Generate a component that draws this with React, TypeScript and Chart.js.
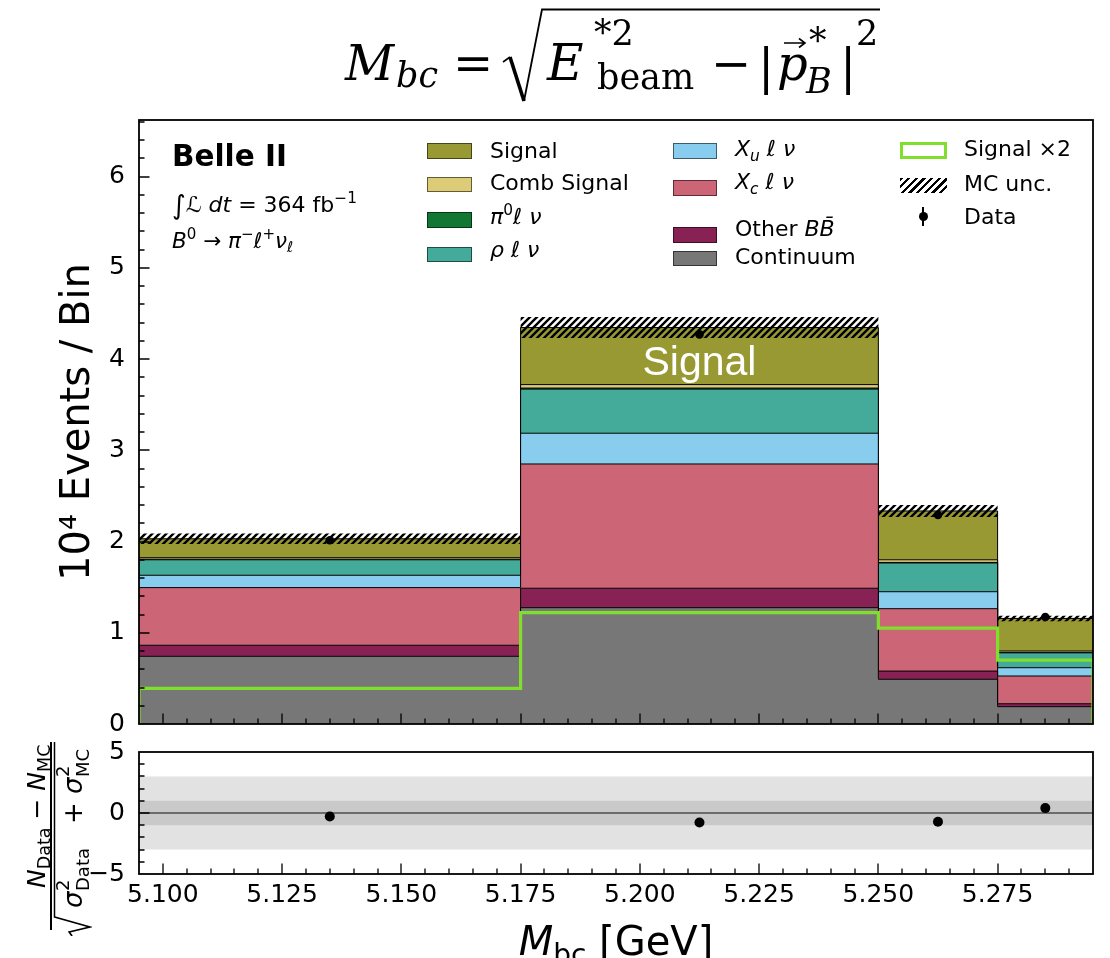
import React, { useEffect, useRef } from 'react';
import { Chart, registerables } from 'chart.js';

Chart.register(...registerables);

// ---------------- data ----------------
const binEdges = [5.095, 5.175, 5.25, 5.275, 5.295];
const binCenters = [5.135, 5.2125, 5.2625, 5.285];
const continuum = [0.742, 1.275, 0.49, 0.19];
const otherBB = [0.121, 0.213, 0.09, 0.032];
const xcLnu = [0.632, 1.362, 0.684, 0.304];
const xuLnu = [0.135, 0.337, 0.186, 0.091];
const rhoLnu = [0.17, 0.483, 0.315, 0.163];
const pi0Lnu = [0.006, 0.012, 0.006, 0.004];
const combSignal = [0.017, 0.038, 0.029, 0.016];
const signal = [0.207, 0.625, 0.535, 0.357];
const signalX2 = [0.39, 1.22, 1.05, 0.7];
const dataValues = [2.014, 4.27, 2.29, 1.173];
const mcUnc = [0.058, 0.115, 0.065, 0.03];
const pullValues = [-0.28, -0.78, -0.72, 0.4];
const pullOuterBand = [-3, 3];
const pullInnerBand = [-1, 1];
const xTickValues = [5.1, 5.125, 5.15, 5.175, 5.2, 5.225, 5.25, 5.275];
const yMainTickValues = [0, 1, 2, 3, 4, 5, 6];
const yPullTickValues = [-5, 0, 5];

const X_MIN = 5.095;
const X_MAX = 5.295;
const Y_MAX = 6.62;
const signalLabelPos = { x: 5.2125, y: 3.83 };

const FONT = '"DejaVu Sans", sans-serif';
const SERIF = '"DejaVu Serif", "Liberation Serif", serif';

const stackOrder = [
  { label: 'Continuum', values: continuum, color: '#777777' },
  { label: 'Other BB', values: otherBB, color: '#882255' },
  { label: 'Xc', values: xcLnu, color: '#CC6677' },
  { label: 'Xu', values: xuLnu, color: '#88CCEE' },
  { label: 'rho', values: rhoLnu, color: '#44AA99' },
  { label: 'pi0', values: pi0Lnu, color: '#117733' },
  { label: 'Comb Signal', values: combSignal, color: '#DDCC77' },
  { label: 'Signal', values: signal, color: '#999933' },
];

function stepData(vals: number[]) {
  return binEdges.map((x, j) => ({ x, y: vals[Math.min(j, vals.length - 1)] }));
}

function makeHatch(): any {
  const s = 7;
  const c = document.createElement('canvas');
  c.width = s;
  c.height = s;
  const g = c.getContext('2d');
  if (!g) return 'rgba(0,0,0,0.5)';
  g.strokeStyle = '#000';
  g.lineWidth = 2.4;
  g.beginPath();
  for (const o of [-s, 0, s]) {
    g.moveTo(o - 1, s + 1);
    g.lineTo(o + s + 1, -1);
  }
  g.stroke();
  return g.createPattern(c, 'repeat') || '#000';
}

const frameTicks = {
  id: 'frameTicks',
  afterDatasetsDraw(chart: any, _a: any, opts: any) {
    const { ctx, chartArea: a, scales } = chart;
    const xs = scales.x;
    const ys = scales.y;
    const steps = (min: number, max: number, step: number) => {
      const out: number[] = [];
      for (let k = Math.ceil(min / step - 1e-6); k * step <= max + 1e-9; k++) out.push(k * step);
      return out;
    };
    const isMaj = (v: number, m: number) => Math.abs(v / m - Math.round(v / m)) < 1e-6;
    ctx.save();
    ctx.strokeStyle = '#000';
    ctx.lineWidth = 1.3;
    ctx.beginPath();
    for (const v of steps(xs.min, xs.max, opts.xMinor)) {
      if (v <= xs.min + 1e-9 || v >= xs.max - 1e-9) continue;
      const px = Math.round(xs.getPixelForValue(v));
      const len = isMaj(v, opts.xMajor) ? 10.5 : 5.5;
      ctx.moveTo(px, a.bottom);
      ctx.lineTo(px, a.bottom - len);
    }
    for (const v of steps(ys.min, ys.max, opts.yMinor)) {
      if (v <= ys.min + 1e-9 || v >= ys.max - 1e-9) continue;
      const py = Math.round(ys.getPixelForValue(v));
      const len = isMaj(v, opts.yMajor) ? 10.5 : 5.5;
      ctx.moveTo(a.left, py);
      ctx.lineTo(a.left + len, py);
    }
    ctx.stroke();
    ctx.lineWidth = 1.8;
    ctx.strokeRect(a.left, a.top, a.right - a.left, a.bottom - a.top);
    ctx.restore();
  },
};

const signalLabel = {
  id: 'signalLabel',
  afterDatasetsDraw(chart: any) {
    const { ctx, scales } = chart;
    ctx.save();
    ctx.fillStyle = '#ffffff';
    ctx.font = '41px "Liberation Sans", Arial, sans-serif';
    ctx.textAlign = 'center';
    ctx.textBaseline = 'alphabetic';
    ctx.fillText('Signal', scales.x.getPixelForValue(signalLabelPos.x), scales.y.getPixelForValue(signalLabelPos.y));
    ctx.restore();
  },
};

// ---------------- text helpers ----------------
type TP = { x: number; b: number; s: number; it?: boolean; bold?: boolean; fam?: string; color?: string; children: React.ReactNode };
function T({ x, b, s, it, bold, fam = FONT, color = '#000', children }: TP) {
  const asc = 0.846;
  return (
    <span
      style={{
        position: 'absolute',
        left: x,
        top: b - asc * s,
        fontSize: s,
        lineHeight: `${s}px`,
        fontFamily: fam,
        fontStyle: it ? 'italic' : 'normal',
        fontWeight: bold ? 'bold' : 'normal',
        color,
        whiteSpace: 'nowrap',
      }}
    >
      {children}
    </span>
  );
}
const sup = (c: React.ReactNode) => (
  <span style={{ fontSize: '0.7em', position: 'relative', top: '-0.6em', lineHeight: 0 }}>{c}</span>
);
const sub = (c: React.ReactNode) => (
  <span style={{ fontSize: '0.7em', position: 'relative', top: '0.3em', lineHeight: 0 }}>{c}</span>
);
const I = ({ children }: { children: React.ReactNode }) => <span style={{ fontStyle: 'italic' }}>{children}</span>;

function Swatch({ x, y, w, h, color }: { x: number; y: number; w: number; h: number; color: string }) {
  return (
    <div
      style={{
        position: 'absolute',
        left: x,
        top: y,
        width: w,
        height: h,
        boxSizing: 'border-box',
        background: color,
        border: '1px solid rgba(0,0,0,0.55)',
      }}
    />
  );
}

// canvas placement (Chart.js adds half a tick label + tick padding at the outer value labels)
const MAIN_H = 753;
const PULL_TOP = 723;
const PULL_H = 958 - PULL_TOP;

export default function App() {
  const mainRef = useRef<HTMLCanvasElement>(null);
  const pullRef = useRef<HTMLCanvasElement>(null);

  useEffect(() => {
    Chart.defaults.font.family = FONT;
    Chart.defaults.color = '#000';
    const hatch = makeHatch();

    let run = binCenters.map(() => 0);
    const stackDatasets = stackOrder.map((c, i) => {
      run = run.map((r, j) => r + c.values[j]);
      return {
        type: 'line' as const,
        label: c.label,
        data: stepData(run.slice()),
        stepped: true,
        fill: i === 0 ? 'origin' : '-1',
        backgroundColor: c.color,
        borderColor: '#000',
        borderWidth: 1,
        pointRadius: 0,
        order: 10,
      };
    });
    const total = run.slice();

    const hatchLower = {
      type: 'line' as const,
      label: 'unc-lo',
      data: stepData(total.map((t, j) => t - mcUnc[j])),
      stepped: true,
      fill: false,
      borderWidth: 0,
      borderColor: 'rgba(0,0,0,0)',
      pointRadius: 0,
      order: 5,
    };
    const hatchUpper = {
      type: 'line' as const,
      label: 'MC unc.',
      data: stepData(total.map((t, j) => t + mcUnc[j])),
      stepped: true,
      fill: '-1',
      backgroundColor: hatch,
      borderWidth: 0,
      borderColor: 'rgba(0,0,0,0)',
      pointRadius: 0,
      order: 5,
    };
    const greenData = [
      { x: binEdges[0], y: 0 },
      ...stepData(signalX2),
      { x: binEdges[binEdges.length - 1], y: 0 },
    ];
    const green = {
      type: 'line' as const,
      label: 'Signal x2',
      data: greenData,
      stepped: true,
      fill: false,
      borderColor: '#7fdf2c',
      borderWidth: 3.2,
      pointRadius: 0,
      order: 3,
    };
    const dataPts = {
      type: 'line' as const,
      label: 'Data',
      data: binCenters.map((x, j) => ({ x, y: dataValues[j] })),
      showLine: false,
      pointRadius: 4.3,
      pointBackgroundColor: '#000',
      pointBorderWidth: 0,
      order: 1,
    };

    const main = new Chart(mainRef.current as HTMLCanvasElement, {
      type: 'line',
      data: { datasets: [...stackDatasets, hatchLower, hatchUpper, green, dataPts] as any },
      options: {
        animation: false,
        responsive: false,
        events: [],
        layout: { padding: { left: 0, right: 17, top: 120, bottom: 0 } },
        plugins: {
          legend: { display: false },
          tooltip: { enabled: false },
          frameTicks: { xMinor: 0.005, xMajor: 0.025, yMinor: 0.2, yMajor: 1 },
        } as any,
        scales: {
          x: { type: 'linear', min: X_MIN, max: X_MAX, display: false },
          y: {
            type: 'linear',
            min: 0,
            max: Y_MAX,
            afterBuildTicks: (s: any) => {
              s.ticks = yMainTickValues.map((value) => ({ value }));
            },
            afterFit: (s: any) => {
              s.width = 139;
            },
            grid: { display: false, drawTicks: false },
            border: { display: false },
            ticks: { font: { size: 25, family: FONT }, color: '#000', padding: 14, callback: (v: any) => String(v) },
            title: {
              display: true,
              text: '10\u2074 Events / Bin',
              font: { size: 40, family: FONT },
              color: '#000',
              padding: { top: 55, bottom: 0 },
            },
          },
        },
      },
      plugins: [signalLabel, frameTicks],
    });

    const bandLine = (vals: number[], fill: any, bg: string, order: number) => ({
      type: 'line' as const,
      data: [
        { x: X_MIN, y: vals[0] },
        { x: X_MAX, y: vals[0] },
      ],
      fill,
      backgroundColor: bg,
      borderWidth: 0,
      borderColor: 'rgba(0,0,0,0)',
      pointRadius: 0,
      order,
    });
    const pull = new Chart(pullRef.current as HTMLCanvasElement, {
      type: 'line',
      data: {
        datasets: [
          bandLine([pullOuterBand[0]], false, 'transparent', 12),
          bandLine([pullOuterBand[1]], '-1', '#e2e2e2', 12),
          bandLine([pullInnerBand[0]], false, 'transparent', 10),
          bandLine([pullInnerBand[1]], '-1', '#c9c9c9', 10),
          {
            type: 'line',
            data: [
              { x: X_MIN, y: 0 },
              { x: X_MAX, y: 0 },
            ],
            borderColor: '#6c6c6c',
            borderWidth: 2,
            pointRadius: 0,
            fill: false,
            order: 5,
          },
          {
            type: 'line',
            data: binCenters.map((x, j) => ({ x, y: pullValues[j] })),
            showLine: false,
            pointRadius: 5,
            pointBackgroundColor: '#000',
            pointBorderWidth: 0,
            order: 1,
          },
        ] as any,
      },
      options: {
        animation: false,
        responsive: false,
        events: [],
        layout: { padding: { left: 0, right: 17, top: 0, bottom: 0 } },
        plugins: {
          legend: { display: false },
          tooltip: { enabled: false },
          frameTicks: { xMinor: 0.005, xMajor: 0.025, yMinor: 1, yMajor: 5 },
        } as any,
        scales: {
          x: {
            type: 'linear',
            min: X_MIN,
            max: X_MAX,
            afterBuildTicks: (s: any) => {
              s.ticks = xTickValues.map((value) => ({ value }));
            },
            afterFit: (s: any) => {
              s.height = 84;
            },
            grid: { display: false, drawTicks: false },
            border: { display: false },
            ticks: {
              font: { size: 25, family: FONT },
              color: '#000',
              padding: 6,
              autoSkip: false,
              maxRotation: 0,
              callback: (v: any) => Number(v).toFixed(3),
            },
          },
          y: {
            type: 'linear',
            min: -5,
            max: 5,
            afterBuildTicks: (s: any) => {
              s.ticks = yPullTickValues.map((value) => ({ value }));
            },
            afterFit: (s: any) => {
              s.width = 139;
            },
            grid: { display: false, drawTicks: false },
            border: { display: false },
            ticks: {
              font: { size: 25, family: FONT },
              color: '#000',
              padding: 14,
              callback: (v: any) => (Number(v) < 0 ? '\u2212' + Math.abs(Number(v)) : String(v)),
            },
          },
        },
      },
      plugins: [frameTicks],
    });

    return () => {
      main.destroy();
      pull.destroy();
    };
  }, []);

  return (
    <div
      style={{
        position: 'absolute',
        left: 0,
        top: 0,
        width: 1110,
        height: 958,
        overflow: 'hidden',
        background: '#fff',
      }}
    >
      <canvas ref={mainRef} width={1110} height={MAIN_H} style={{ position: 'absolute', left: 0, top: 0 }} />
      <canvas ref={pullRef} width={1110} height={PULL_H} style={{ position: 'absolute', left: 0, top: PULL_TOP }} />

      {/* Title formula */}
      <svg width={1110} height={112} style={{ position: 'absolute', left: 0, top: 0 }}>
        <path d="M 503 62 L 510 57" stroke="#000" strokeWidth={1.6} fill="none" />
        <path d="M 510 57 L 524 101" stroke="#000" strokeWidth={3.6} fill="none" />
        <path d="M 524 101 L 542 9.5 L 880 9.5" stroke="#000" strokeWidth={1.8} fill="none" />
        <path d="M 784 43 L 804 43 M 799 38.5 L 805 43 L 799 47.5" stroke="#000" strokeWidth={1.6} fill="none" />
      </svg>
      <T x={345} b={80} s={48} fam={SERIF} it>M</T>
      <T x={396} b={88} s={35} fam={SERIF} it>bc</T>
      <T x={453} b={80} s={48} fam={SERIF}>=</T>
      <T x={547} b={80} s={50} fam={SERIF} it>E</T>
      <T x={594} b={46} s={35} fam={SERIF}>*2</T>
      <T x={597} b={90} s={35} fam={SERIF}>beam</T>
      <T x={711} b={80} s={48} fam={SERIF}>−</T>
      <T x={758} b={84} s={48} fam={SERIF}>|</T>
      <T x={777} b={80} s={48} fam={SERIF} it>p</T>
      <T x={809} b={54} s={35} fam={SERIF}>*</T>
      <T x={806} b={94} s={35} fam={SERIF} it>B</T>
      <T x={840} b={84} s={48} fam={SERIF}>|</T>
      <T x={856} b={46} s={35} fam={SERIF}>2</T>

      {/* Belle II annotation */}
      <T x={172} b={167} s={29.5} bold>Belle II</T>
      <T x={172} b={211} s={22}>
        <span style={{ fontSize: '1.2em', position: 'relative', top: '0.06em' }}>∫</span>
        <I>ℒ</I> <I>dt</I> = 364 fb{sup('−1')}
      </T>
      <T x={172} b={248} s={21.5}>
        <I>B</I>
        {sup('0')} → <I>π</I>
        {sup('−')}
        <I>ℓ</I>
        {sup('+')}
        <I>ν</I>
        {sub(<I>ℓ</I>)}
      </T>

      {/* Legend column 1 */}
      <Swatch x={427} y={143} w={45} h={15.5} color="#999933" />
      <Swatch x={427} y={176.5} w={45} h={15.5} color="#DDCC77" />
      <Swatch x={427} y={212} w={45} h={15.5} color="#117733" />
      <Swatch x={427} y={246.5} w={45} h={15.5} color="#44AA99" />
      <T x={490} b={158.3} s={22}>Signal</T>
      <T x={490} b={191} s={22}>Comb Signal</T>
      <T x={490} b={225} s={22}>
        <I>π</I>
        {sup('0')}
        <I>ℓ</I> <I>ν</I>
      </T>
      <T x={490} b={258} s={22}>
        <I>ρ</I> <I>ℓ</I> <I>ν</I>
      </T>

      {/* Legend column 2 */}
      <Swatch x={673} y={143} w={44} h={15.5} color="#88CCEE" />
      <Swatch x={673} y={180} w={44} h={15.5} color="#CC6677" />
      <Swatch x={673} y={227} w={44} h={15.5} color="#882255" />
      <Swatch x={673} y={250.5} w={44} h={15.5} color="#777777" />
      <T x={735} b={156.7} s={22}>
        <I>X</I>
        {sub(<I>u</I>)} <I>ℓ</I> <I>ν</I>
      </T>
      <T x={735} b={190} s={22}>
        <I>X</I>
        {sub(<I>c</I>)} <I>ℓ</I> <I>ν</I>
      </T>
      <T x={735} b={236.7} s={22}>
        Other <I>B</I>
        <I>B̄</I>
      </T>
      <T x={735} b={265} s={22}>Continuum</T>

      {/* Legend column 3 */}
      <div
        style={{
          position: 'absolute',
          left: 900,
          top: 142,
          width: 47,
          height: 17,
          boxSizing: 'border-box',
          border: '3px solid #7fdf2c',
          background: '#fff',
        }}
      />
      <div
        style={{
          position: 'absolute',
          left: 900,
          top: 178,
          width: 47,
          height: 15,
          background:
            'repeating-linear-gradient(135deg, #000 0px, #000 2.3px, transparent 2.3px, transparent 5.4px)',
        }}
      />
      <div style={{ position: 'absolute', left: 922.3, top: 207, width: 1.5, height: 19, background: '#000' }} />
      <div
        style={{ position: 'absolute', left: 918.5, top: 212, width: 9, height: 9, borderRadius: '50%', background: '#000' }}
      />
      <T x={964} b={156.7} s={22}>Signal ×2</T>
      <T x={964} b={191.7} s={22}>MC unc.</T>
      <T x={964} b={225} s={22}>Data</T>

      {/* Pull y-axis label (rotated fraction) */}
      <div
        style={{
          position: 'absolute',
          left: 57 - 100,
          top: 836 - 35,
          width: 200,
          height: 70,
          transform: 'rotate(-90deg)',
          transformOrigin: '50% 50%',
        }}
      >
        <T x={48} b={23} s={25}>
          <I>N</I>
          {sub('Data')} − <I>N</I>
          {sub('MC')}
        </T>
        <div style={{ position: 'absolute', left: 6, top: 28, width: 188, height: 1.6, background: '#000' }} />
        <svg width={200} height={70} style={{ position: 'absolute', left: 0, top: 0 }}>
          <path d="M 0 50 L 4 47 L 9 68 L 19 32.5 L 194 32.5" stroke="#000" strokeWidth={1.6} fill="none" />
        </svg>
        <T x={28} b={60} s={26} it>σ</T>
        <T x={45} b={47} s={18}>2</T>
        <T x={45} b={67} s={18}>Data</T>
        <T x={112} b={60} s={26}>+</T>
        <T x={142} b={60} s={26} it>σ</T>
        <T x={159} b={47} s={18}>2</T>
        <T x={159} b={67} s={18}>MC</T>
      </div>

      {/* X axis title */}
      <div
        style={{
          position: 'absolute',
          left: 139,
          width: 954,
          top: 955 - 0.846 * 40,
          textAlign: 'center',
          fontFamily: FONT,
          fontSize: 40,
          lineHeight: '40px',
          whiteSpace: 'nowrap',
        }}
      >
        <I>M</I>
        {sub('bc')} [GeV]
      </div>
    </div>
  );
}
